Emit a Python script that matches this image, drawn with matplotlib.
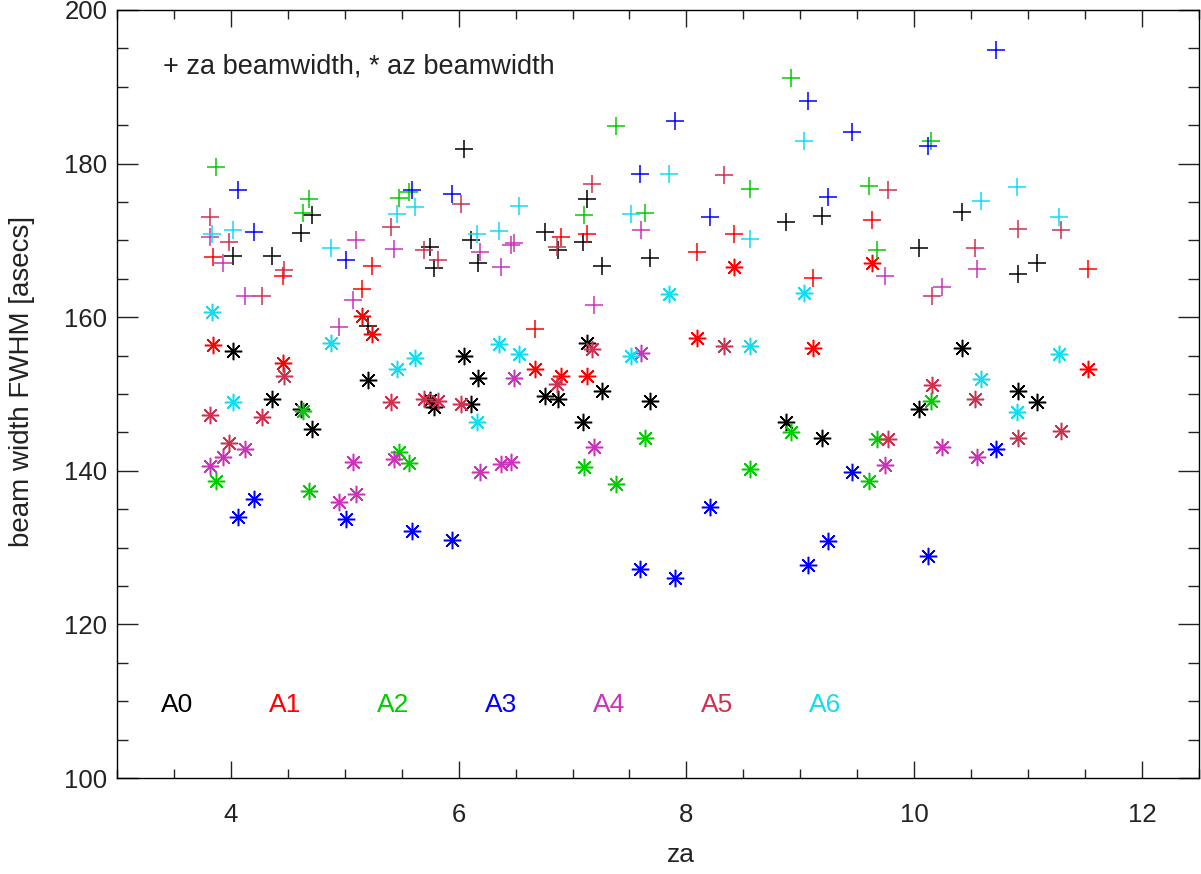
import matplotlib
matplotlib.use('Agg')
import matplotlib.pyplot as plt
from matplotlib.ticker import MultipleLocator

plt.rcParams['font.family'] = ['Liberation Sans', 'DejaVu Sans']

names = ['A0', 'A1', 'A2', 'A3', 'A4', 'A5', 'A6']
colors = ['#000000', '#ff0000', '#00cc00', '#0000ff', '#cc33bb', '#cc3350', '#11ddee']

# za (deg), za beamwidth (+), az beamwidth (*) per antenna
za_a0 = [4.02, 4.71, 4.62, 4.36, 5.20, 6.05, 5.75, 5.78, 6.11, 6.17, 6.76, 6.87, 7.09, 7.26,
         7.13, 7.68, 8.87, 9.19, 10.42, 10.04, 11.08, 10.91]
zbw_a0 = [168.0, 173.3, 170.9, 168.0, 158.9, 181.9, 169.2, 166.4, 170.1, 167.0, 171.1, 168.8,
          169.8, 166.7, 175.4, 167.7, 172.4, 173.2, 173.7, 169.0, 167.0, 165.6]
abw_a0 = [155.6, 145.4, 148.1, 149.3, 151.8, 155.0, 149.2, 148.3, 148.7, 152.1, 149.7, 149.3,
          146.3, 150.4, 156.6, 149.1, 146.4, 144.3, 156.0, 148.1, 149.0, 150.4]

za_a1 = [3.84, 4.46, 5.24, 5.15, 6.67, 6.90, 7.13, 8.09, 8.42, 9.11, 9.63, 11.53]
zbw_a1 = [167.9, 165.3, 166.7, 163.7, 158.4, 170.5, 170.8, 168.5, 170.8, 165.1, 172.6, 166.3]
abw_a1 = [156.4, 154.0, 157.8, 160.2, 153.3, 152.3, 152.3, 157.3, 166.5, 156.0, 167.0, 153.2]

za_a2 = [3.87, 4.69, 4.63, 5.48, 5.56, 7.10, 7.38, 7.64, 8.56, 8.92, 9.60, 9.67, 10.15]
zbw_a2 = [179.6, 175.4, 173.6, 175.5, 176.3, 173.3, 184.9, 173.6, 176.7, 191.1, 177.1, 168.8, 183.0]
abw_a2 = [138.7, 137.4, 147.8, 142.5, 141.0, 140.5, 138.3, 144.3, 140.3, 145.0, 138.7, 144.2, 149.1]

za_a3 = [4.06, 4.20, 5.01, 5.59, 5.94, 7.59, 7.90, 8.21, 9.07, 9.24, 9.45, 10.12, 10.72]
zbw_a3 = [176.5, 171.1, 167.5, 176.6, 176.0, 178.7, 185.6, 173.0, 188.1, 175.6, 184.1, 182.3, 194.8]
abw_a3 = [134.0, 136.3, 133.7, 132.2, 131.0, 127.2, 126.0, 135.3, 127.7, 130.9, 139.8, 128.9, 142.9]

za_a4 = [3.82, 3.93, 4.12, 5.10, 5.07, 4.95, 5.43, 6.19, 6.37, 6.46, 6.49, 7.19, 7.60, 9.74,
         10.24, 10.55]
zbw_a4 = [170.5, 167.0, 162.7, 170.1, 162.3, 158.7, 168.9, 168.5, 166.5, 169.4, 169.6, 161.6,
          171.3, 165.4, 163.9, 166.3]
abw_a4 = [140.6, 141.8, 142.8, 137.0, 141.1, 136.0, 141.5, 139.9, 140.9, 141.1, 152.1, 143.1,
          155.3, 140.8, 143.1, 141.8]

za_a5 = [3.82, 3.98, 4.27, 4.47, 5.41, 5.70, 5.82, 6.02, 6.86, 7.17, 8.33, 9.77, 10.16, 10.53,
         10.91, 11.29]
zbw_a5 = [173.1, 169.8, 162.8, 166.2, 171.8, 168.8, 167.5, 174.7, 169.2, 177.3, 178.5, 176.6,
          162.7, 169.0, 171.5, 171.4]
abw_a5 = [147.3, 143.6, 147.0, 152.3, 148.9, 149.4, 149.1, 148.7, 151.3, 155.8, 156.2, 144.2,
          151.2, 149.3, 144.3, 145.2]

za_a6 = [3.83, 4.02, 4.88, 5.46, 5.62, 6.16, 6.35, 6.53, 7.51, 7.85, 8.56, 9.03, 10.59, 10.90, 11.27]
zbw_a6 = [170.8, 171.4, 169.0, 173.4, 174.4, 170.8, 171.2, 174.5, 173.5, 178.7, 170.2, 182.9,
          175.1, 176.9, 173.1]
abw_a6 = [160.7, 149.0, 156.6, 153.3, 154.7, 146.3, 156.5, 155.2, 154.9, 163.0, 156.2, 163.2,
          152.0, 147.6, 155.2]

za_all = [za_a0, za_a1, za_a2, za_a3, za_a4, za_a5, za_a6]
zbw_all = [zbw_a0, zbw_a1, zbw_a2, zbw_a3, zbw_a4, zbw_a5, zbw_a6]
abw_all = [abw_a0, abw_a1, abw_a2, abw_a3, abw_a4, abw_a5, abw_a6]

txt = '#222222'
fig = plt.figure(figsize=(12.01, 8.74), dpi=100)
ax = fig.add_axes([0.0974, 0.1098, 0.9009, 0.8788])

for za, zb, ab, c in zip(za_all, zbw_all, abw_all, colors):
    ax.plot(za, zb, linestyle='none', marker='+', ms=12.5, mew=1.1, color=c)
    ax.plot(za, ab, linestyle='none', marker=(8, 2, 0), ms=12.5, mew=1.1, color=c)

for i, (n, c) in enumerate(zip(names, colors)):
    ax.text(3.39 + i * 0.948, 109.5, n, color=c, fontsize=19, ha='left', va='center')

ax.text(3.4, 192.7, '+ za beamwidth, * az beamwidth', color=txt, fontsize=19.5,
        ha='left', va='center')

ax.set_xlim(3, 12.5)
ax.set_ylim(100, 200)
ax.xaxis.set_major_locator(MultipleLocator(2))
ax.xaxis.set_minor_locator(MultipleLocator(0.5))
ax.yaxis.set_major_locator(MultipleLocator(20))
ax.yaxis.set_minor_locator(MultipleLocator(5))
ax.tick_params(which='both', direction='in', top=True, right=True, width=1.0, color='#222222')
ax.tick_params(axis='x', which='major', length=12.5, pad=18, labelsize=18.5, labelcolor=txt)
ax.tick_params(axis='x', which='minor', length=6.5)
ax.tick_params(axis='y', which='major', length=15, pad=7, labelsize=18.5, labelcolor=txt)
ax.tick_params(axis='y', which='minor', length=8)
for s in ax.spines.values():
    s.set_linewidth(1.0)

ax.set_xlabel('za', fontsize=19, color=txt)
ax.xaxis.set_label_coords(0.521, -0.085)
ax.set_ylabel('beam width FWHM [asecs]', fontsize=20, color=txt)
ax.yaxis.set_label_coords(-0.076, 0.517)

fig.savefig('out.png', dpi=100)
